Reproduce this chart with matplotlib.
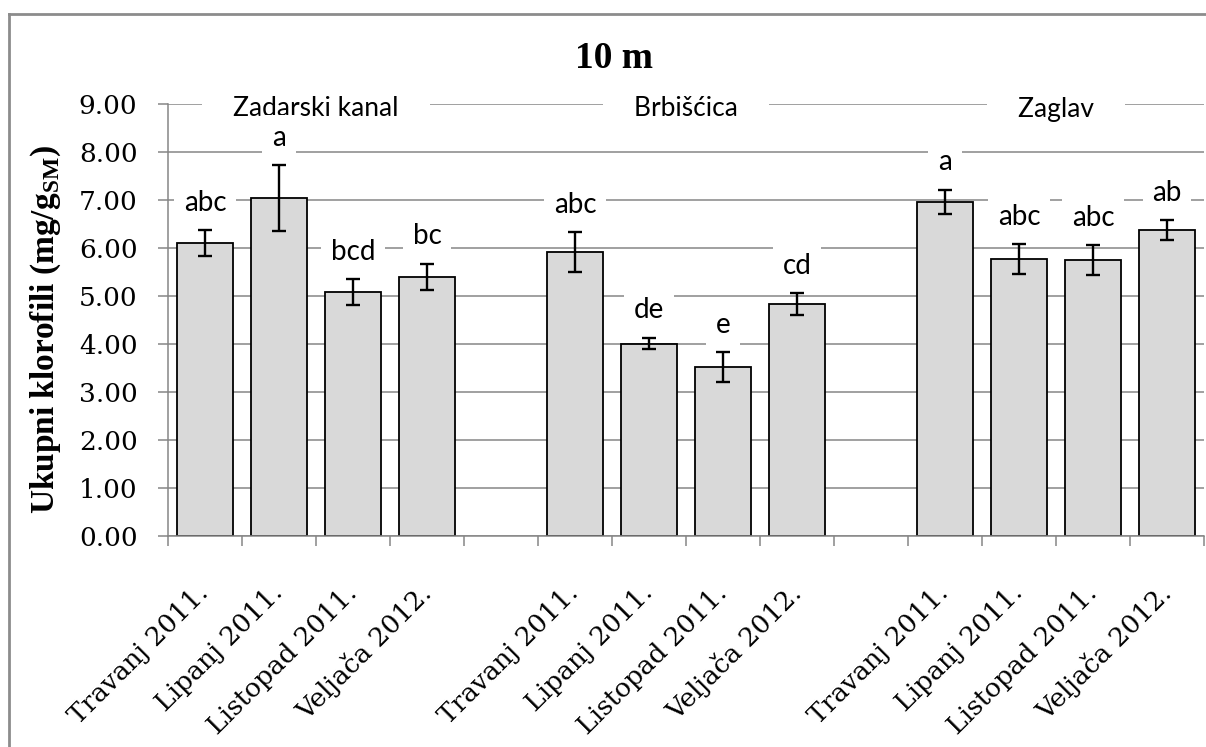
import matplotlib
matplotlib.use("Agg")
import matplotlib.pyplot as plt
from matplotlib.lines import Line2D
import numpy as np

plt.rcParams['mathtext.fontset'] = 'custom'
plt.rcParams['mathtext.rm'] = 'Liberation Serif:bold'
plt.rcParams['mathtext.bf'] = 'Liberation Serif:bold'

# data
sites = ["Zadarski kanal", "Brbišćica", "Zaglav"]
months = ["Travanj 2011.", "Lipanj 2011.", "Listopad 2011.", "Veljača 2012."]
zadarski = [6.10, 7.04, 5.08, 5.40]
zadarski_err = [0.27, 0.69, 0.27, 0.27]
zadarski_lett = ["abc", "a", "bcd", "bc"]
brbiscica = [5.92, 4.01, 3.52, 4.83]
brbiscica_err = [0.41, 0.12, 0.31, 0.23]
brbiscica_lett = ["abc", "de", "e", "cd"]
zaglav = [6.96, 5.77, 5.75, 6.37]
zaglav_err = [0.25, 0.31, 0.31, 0.21]
zaglav_lett = ["a", "abc", "abc", "ab"]

values = [zadarski, brbiscica, zaglav]
errors = [zadarski_err, brbiscica_err, zaglav_err]
letters = [zadarski_lett, brbiscica_lett, zaglav_lett]

grid_c = '#868686'
sans = 'Lato'
serif = 'DejaVu Serif'

fig = plt.figure(figsize=(12.06, 7.47), dpi=100)
ax = fig.add_axes([168 / 1206, 1 - 536 / 747, (1204 - 168) / 1206, (536 - 104) / 747])

xpos, labels = [], []
for g in range(len(sites)):
    x = np.arange(4) + g * 5
    ax.bar(x, values[g], width=0.75, color='#d9d9d9', edgecolor='black', linewidth=1.3, zorder=2)
    ax.errorbar(x, values[g], yerr=errors[g], fmt='none', ecolor='black',
                elinewidth=1.7, capsize=5, capthick=1.7, zorder=3)
    for xi, v, e, t in zip(x, values[g], errors[g], letters[g]):
        ax.annotate(t, (xi, v + e), xytext=(0, 14), textcoords='offset points',
                    ha='center', va='baseline', fontsize=20, family=sans, zorder=6,
                    bbox=dict(boxstyle='square,pad=0.35', fc='white', ec='none'))
    # site name sits on the 9.00 gridline, padded with spaces to break the line
    ax.annotate("    " + sites[g] + "    ", (g * 5 + 1.5, 9), xytext=(0, -9),
                textcoords='offset points', ha='center', va='baseline', fontsize=19,
                family=sans, zorder=5, annotation_clip=False,
                bbox=dict(boxstyle='square,pad=0.15', fc='white', ec='none'))
    xpos += list(x)
    labels += months

ax.set_xlim(-0.5, 13.5)
ax.set_ylim(0, 9)
ax.set_yticks(np.arange(0, 9.5, 1))
ax.set_yticklabels(["%.2f" % v for v in np.arange(0, 9.5, 1)], family=serif, fontsize=19)
ax.yaxis.grid(True, color=grid_c, linewidth=1.1, zorder=0)
ax.set_axisbelow(True)

ax.set_xticks(np.arange(-0.5, 14, 1))
ax.set_xticklabels([])
ax.set_xticks(xpos, minor=True)
ax.set_xticklabels(labels, minor=True, family=serif, fontsize=19, rotation=45,
                   ha='right', va='center', rotation_mode='anchor')
ax.tick_params(axis='x', which='minor', length=0, pad=38)
ax.tick_params(axis='x', which='major', length=7, color=grid_c, width=1.1, direction='out')
ax.tick_params(axis='y', length=7, color=grid_c, width=1.1, pad=15)

for s in ['top', 'right']:
    ax.spines[s].set_visible(False)
for s in ['left', 'bottom']:
    ax.spines[s].set_color(grid_c)
    ax.spines[s].set_linewidth(1.1)

fig.text(614 / 1206, 1 - 68 / 747, "10 m", ha='center', va='baseline',
         family='Liberation Serif', fontweight='bold', fontsize=27)
fig.text(46 / 1206, 1 - 330 / 747, r"Ukupni klorofili (mg/g$_{\mathrm{SM}}$)",
         rotation=90, ha='center', va='center', family='Liberation Serif',
         fontweight='bold', fontsize=24)

# outer chart border (right and bottom edges fall outside the picture)
x0, y0 = 8.5 / 1206, 1 - 13.5 / 747
fig.add_artist(Line2D([x0, x0], [0, y0], color='#8c8c8c', linewidth=2))
fig.add_artist(Line2D([x0, 1.01], [y0, y0], color='#8c8c8c', linewidth=2))

fig.savefig("out.png", dpi=100)
